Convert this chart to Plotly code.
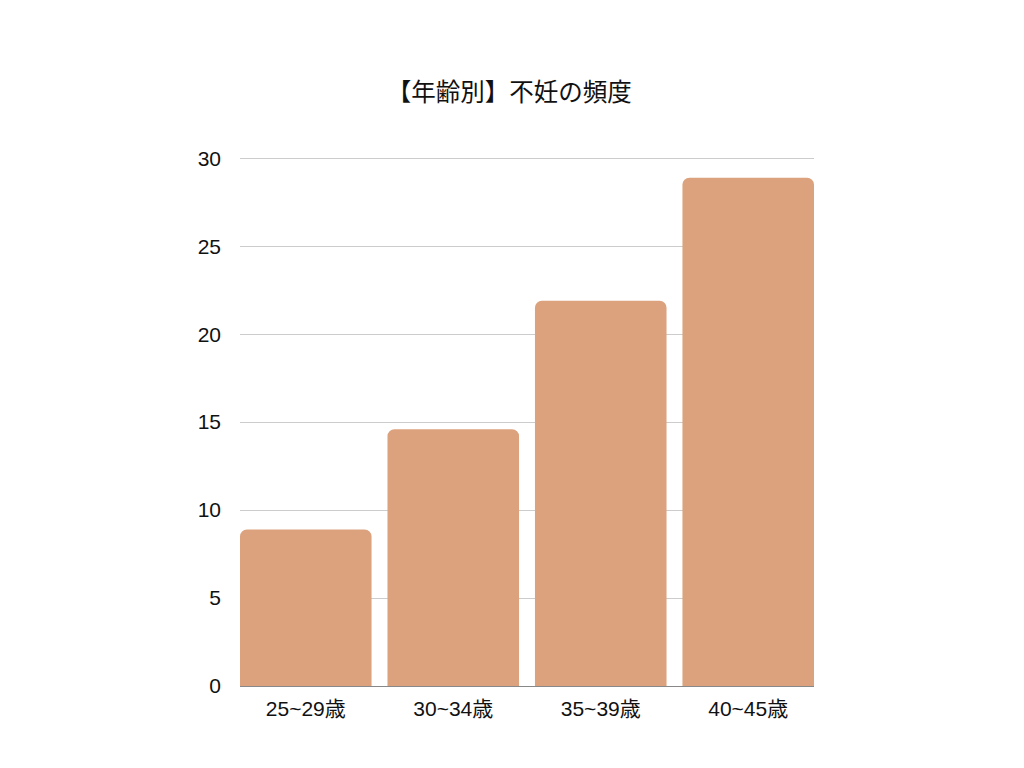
import plotly.graph_objects as go

# data
age_groups = ["25~29歳", "30~34歳", "35~39歳", "40~45歳"]
infertility_rate = [8.9, 14.6, 21.9, 28.9]
y_ticks = [0, 5, 10, 15, 20, 25, 30]

fig = go.Figure()
fig.add_trace(go.Bar(
    x=age_groups,
    y=infertility_rate,
    marker=dict(color="#DBA27D", cornerradius=7, line=dict(width=0)),
    hoverinfo="skip",
))
fig.update_layout(
    width=1024,
    height=768,
    margin=dict(l=232, r=218, t=145, b=90),
    paper_bgcolor="white",
    plot_bgcolor="white",
    bargap=0.108,
    showlegend=False,
    font=dict(family="Liberation Sans, Noto Sans CJK JP, sans-serif", size=21, color="#111"),
    title=dict(
        text="【年齢別】不妊の頻度",
        x=0.4895, xanchor="center",
        y=0.89, yanchor="middle",
        font=dict(family="Noto Sans CJK JP, sans-serif", size=24.5, color="#111"),
    ),
)
fig.update_xaxes(
    range=[-0.446, 3.446],
    showgrid=False,
    showline=True,
    linecolor="#888",
    linewidth=1,
    ticks="",
    ticklabelstandoff=4,
)
fig.update_yaxes(
    range=[0, 30.3],
    tickvals=y_ticks,
    showgrid=True,
    gridcolor="#cccccc",
    gridwidth=1,
    zeroline=False,
    showline=False,
    ticks="",
    ticklabelstandoff=18,
)
fig.write_html("out.html")
